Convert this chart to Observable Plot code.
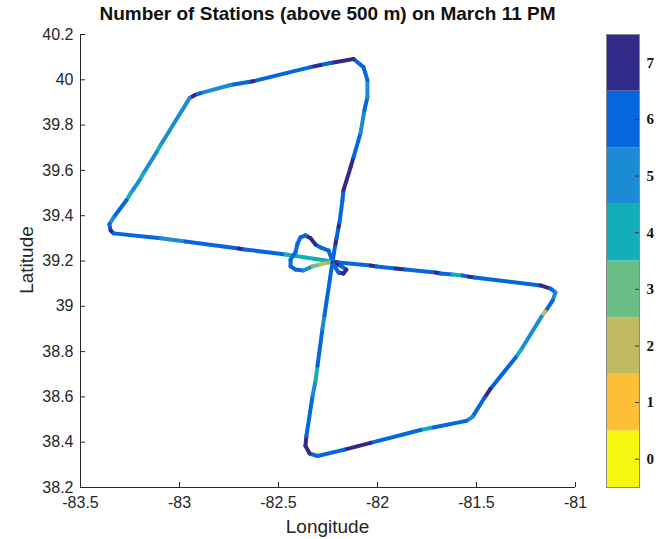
<!DOCTYPE html>
<html><head><meta charset="utf-8">
<script src="https://cdn.jsdelivr.net/npm/d3@7"></script>
<script src="https://cdn.jsdelivr.net/npm/@observablehq/plot@0.6"></script>
<style>
body{margin:0;background:#fff;}
#wrap{position:relative;width:665px;height:539px;overflow:hidden;font-family:"Liberation Sans",Arial,sans-serif;color:#262626;}
#title{position:absolute;left:0;width:655px;top:3px;text-align:center;font-weight:bold;font-size:19px;color:#111;white-space:nowrap;}
#xlabel{position:absolute;left:80px;width:495px;top:516px;text-align:center;font-size:19px;}
#ylabel{position:absolute;left:-23px;top:249px;width:100px;text-align:center;font-size:19px;transform:rotate(-90deg);}
#main{position:absolute;left:0;top:0;}
#cbar{position:absolute;left:600px;top:0;}
</style></head>
<body><div id="wrap">
<div id="main"></div><div id="cbar"></div>
<div id="title">Number of Stations (above 500 m) on March 11 PM</div>
<div id="xlabel">Longitude</div>
<div id="ylabel">Latitude</div>
</div>
<script>
// Flight track waypoints (longitude, latitude) and number of stations on the segment starting there
const lon = [-82.227,-82.212,-82.207,-82.197,-82.192,-82.177,-82.172,-82.136,-82.121,-82.086,
  -82.066,-82.051,-82.051,-82.071,-82.121,-82.237,-82.288,-82.338,-82.626,-82.652,
  -82.742,-82.894,-82.924,-82.949,-83.096,-83.116,-83.182,-83.202,-83.247,-83.268,
  -83.333,-83.354,-83.348,-83.333,-83.096,-82.970,-82.702,-82.672,-82.465,-82.227,
  -82.197,-82.035,-82.005,-81.909,-81.859,-81.707,-81.682,-81.621,-81.571,-81.540,
  -81.510,-81.177,-81.126,-81.101,-81.116,-81.152,-81.172,-81.278,-81.303,-81.429,
  -81.460,-81.520,-81.551,-81.732,-81.783,-82.035,-82.172,-82.303,-82.343,-82.364,
  -82.359,-82.328,-82.313,-82.303,-82.278,-82.268,-82.227,-82.247,-82.288,-82.313,
  -82.338,-82.364,-82.389,-82.404,-82.414,-82.439,-82.439,-82.414,-82.374,-82.328,
  -82.288,-82.247,-82.227,-82.187,-82.157,-82.172,-82.197,-82.222];
const lat = [39.198,39.277,39.300,39.348,39.370,39.468,39.512,39.614,39.658,39.764,
  39.866,39.923,39.999,40.056,40.092,40.074,40.065,40.056,39.994,39.990,
  39.977,39.941,39.932,39.919,39.711,39.680,39.587,39.556,39.499,39.468,
  39.392,39.362,39.335,39.322,39.300,39.286,39.255,39.251,39.229,39.198,
  39.193,39.180,39.176,39.167,39.162,39.149,39.145,39.140,39.136,39.131,
  39.127,39.092,39.078,39.061,39.025,38.977,38.954,38.804,38.773,38.636,
  38.596,38.512,38.494,38.463,38.454,38.397,38.366,38.339,38.350,38.384,
  38.428,38.605,38.671,38.738,38.901,38.959,39.198,39.246,39.260,39.273,
  39.300,39.313,39.304,39.277,39.238,39.207,39.176,39.162,39.158,39.176,
  39.185,39.193,39.193,39.180,39.162,39.145,39.149,39.185];
const stations = [6,7,6,7,6,6,7,7,6,5,
  6,5,6,6,7,6,7,6,7,6,
  5,6,7,5,4,5,4,5,4,6,
  5,6,7,6,5,6,7,6,4,7,
  6,7,6,7,6,7,6,4,6,7,
  6,7,6,5,6,2,5,4,6,7,
  6,5,6,4,6,7,6,6,7,7,
  6,5,4,6,5,6,6,6,6,7,
  7,6,6,6,6,6,6,6,5,3,
  2,3,7,6,7,7,6,6];

const levels = [0, 1, 2, 3, 4, 5, 6, 7];
const levelColors = ["#f6f610", "#fdbf37", "#c0bb62", "#6abf87", "#12afb8", "#1a8bd4", "#0567e0", "#312a88"];
const xTicks = [-83.5, -83, -82.5, -82, -81.5, -81];
const yTicks = [38.2, 38.4, 38.6, 38.8, 39, 39.2, 39.4, 39.6, 39.8, 40, 40.2];

const segs = d3.range(lon.length - 1).map(i => ({x1: lon[i], y1: lat[i], x2: lon[i + 1], y2: lat[i + 1], v: stations[i]}));
const axisColor = "#262626";

const main = Plot.plot({
  width: 600, height: 539,
  marginLeft: 80, marginRight: 25, marginTop: 34, marginBottom: 52,
  style: {fontFamily: "'Liberation Sans', Arial, sans-serif", fontSize: "16px", color: axisColor, background: "transparent"},
  x: {domain: [xTicks[0], xTicks[xTicks.length - 1]], ticks: xTicks, tickSize: 0, tickPadding: 9, tickFormat: d => String(d), label: null},
  y: {domain: [yTicks[0], yTicks[yTicks.length - 1]], ticks: yTicks, tickSize: 0, tickPadding: 7, tickFormat: d => String(d), label: null},
  color: {type: "ordinal", domain: levels, range: levelColors},
  marks: [
    Plot.link(segs, {x1: "x1", y1: "y1", x2: "x2", y2: "y2", stroke: "v", strokeWidth: 4, strokeLinecap: "round", strokeLinejoin: "round"}),
    Plot.ruleX([xTicks[0]], {stroke: axisColor}),
    Plot.ruleY([yTicks[0]], {stroke: axisColor}),
    Plot.ruleX(xTicks, {x: d => d, y1: yTicks[0], y2: yTicks[0], insetBottom: 5, stroke: axisColor}),
    Plot.ruleY(yTicks, {y: d => d, x1: xTicks[0], x2: xTicks[0], insetRight: -5, stroke: axisColor})
  ]
});
document.getElementById("main").appendChild(main);

const cbar = Plot.plot({
  width: 65, height: 539,
  marginLeft: 6, marginRight: 26, marginTop: 34, marginBottom: 52,
  style: {fontFamily: "'Liberation Serif', 'Times New Roman', serif", fontSize: "15px", fontWeight: "bold", color: "#111", background: "transparent"},
  x: {domain: [0, 1], axis: null},
  y: {domain: [levels[0] - 0.5, levels[levels.length - 1] + 0.5], ticks: levels, tickSize: 0, tickPadding: 7, axis: "right", label: null, tickFormat: d => String(d)},
  color: {type: "ordinal", domain: levels, range: levelColors},
  marks: [
    Plot.rect(levels, {x1: 0, x2: 1, y1: d => d - 0.5, y2: d => d + 0.5, fill: d => d}),
    Plot.ruleY(levels, {y: d => d, x1: 1, x2: 1, insetRight: 4, stroke: "#333"}),
    Plot.frame({stroke: "#8a8a8a"})
  ]
});
document.getElementById("cbar").appendChild(cbar);
</script>
</body></html>
